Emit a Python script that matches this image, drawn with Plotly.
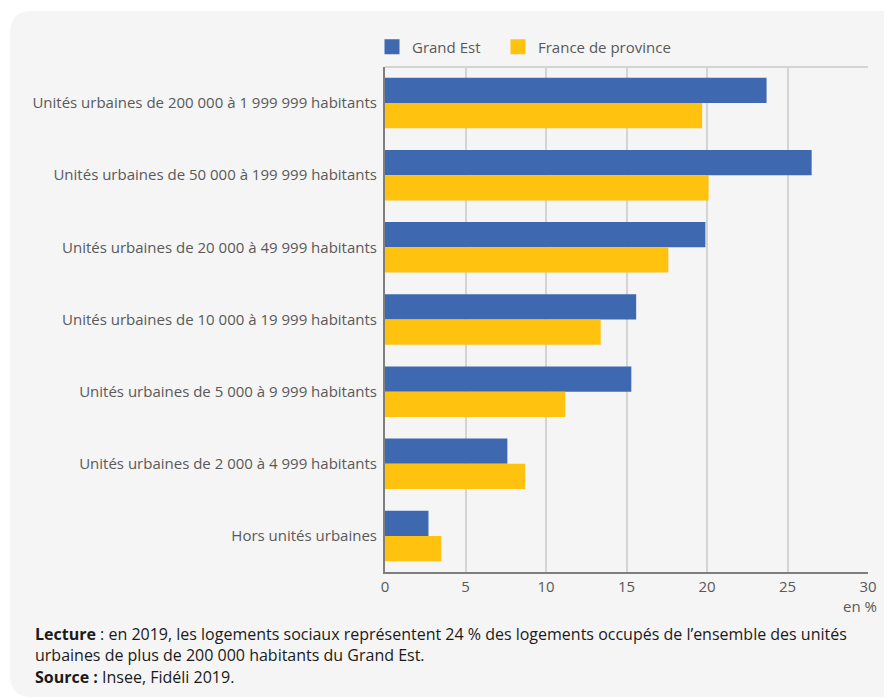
import plotly.graph_objects as go

categories = [
    "Unités urbaines de 200 000 à 1 999 999 habitants",
    "Unités urbaines de 50 000 à 199 999 habitants",
    "Unités urbaines de 20 000 à 49 999 habitants",
    "Unités urbaines de 10 000 à 19 999 habitants",
    "Unités urbaines de 5 000 à 9 999 habitants",
    "Unités urbaines de 2 000 à 4 999 habitants",
    "Hors unités urbaines",
]
grand_est = [23.7, 26.5, 19.9, 15.6, 15.3, 7.6, 2.7]
france_province = [19.7, 20.1, 17.6, 13.4, 11.2, 8.7, 3.5]
x_ticks = [0, 5, 10, 15, 20, 25, 30]

W, H = 892, 698
OFF = 8  # page body margin offset
L, R, T, B = 385 - OFF, 868 - OFF, 67 - OFF, 572 - OFF  # plot area in figure pixels
pw, ph = R - L, B - T

def px(x):
    return (x - OFF - L) / pw

def py(y):
    return (B - (y - OFF)) / ph

BLUE = "#3e68b0"
YELLOW = "#ffc20e"
TXT = "#595959"
BG = "#f5f5f5"
FONT = "Open Sans"

fig = go.Figure()
fig.add_trace(go.Bar(y=categories, x=grand_est, name="Grand Est", orientation="h",
                     marker=dict(color=BLUE, line=dict(width=0)), showlegend=False))
fig.add_trace(go.Bar(y=categories, x=france_province, name="France de province", orientation="h",
                     marker=dict(color=YELLOW, line=dict(width=0)), showlegend=False))
# legend entries (square swatches)
for nm, col, lg in [("Grand Est", BLUE, "legend"), ("France de province", YELLOW, "legend2")]:
    fig.add_trace(go.Scatter(x=[None], y=[None], name=nm, mode="markers", legend=lg,
                             marker=dict(symbol="square", size=15, color=col, line=dict(width=0)),
                             showlegend=True, hoverinfo="skip"))

# rounded panel (screen coordinates)
x0, x1, y0, y1, r = 10, 910, 11, 697, 22
path = (f"M {px(x0+r)},{py(y0)} L {px(x1)},{py(y0)} L {px(x1)},{py(y1)} "
        f"L {px(x0+r)},{py(y1)} Q {px(x0)},{py(y1)} {px(x0)},{py(y1-r)} "
        f"L {px(x0)},{py(y0+r)} Q {px(x0)},{py(y0)} {px(x0+r)},{py(y0)} Z")
shapes = [
    dict(type="path", xref="paper", yref="paper", path=path,
         fillcolor=BG, line=dict(width=0), layer="below"),
    dict(type="line", xref="paper", yref="paper", x0=0, x1=1, y0=1, y1=1,
         line=dict(color="#d4d4d4", width=2), layer="below"),
]

annotations = [
    dict(text="en %", xref="paper", yref="paper", x=px(879), y=py(606),
         xanchor="right", yanchor="middle", showarrow=False,
         font=dict(size=15, color=TXT)),
    dict(text="<b>Lecture</b> : en 2019, les logements sociaux représentent 24 % des logements occupés de l’ensemble des unités",
         xref="paper", yref="paper", x=px(33), y=py(634), xanchor="left", yanchor="middle",
         showarrow=False, font=dict(size=16, color="#1a1a1a")),
    dict(text="urbaines de plus de 200 000 habitants du Grand Est.",
         xref="paper", yref="paper", x=px(33), y=py(655), xanchor="left", yanchor="middle",
         showarrow=False, font=dict(size=16, color="#1a1a1a")),
    dict(text="<b>Source :</b> Insee, Fidéli 2019.",
         xref="paper", yref="paper", x=px(33), y=py(677), xanchor="left", yanchor="middle",
         showarrow=False, font=dict(size=16, color="#1a1a1a")),
]

legend_common = dict(orientation="h", xanchor="left", yanchor="middle",
                     bgcolor="rgba(0,0,0,0)", font=dict(size=15, color=TXT),
                     itemclick=False, itemdoubleclick=False, itemsizing="trace")

fig.update_layout(
    width=W, height=H,
    margin=dict(l=L, r=W - R, t=T, b=H - B, pad=0),
    paper_bgcolor="white", plot_bgcolor=BG,
    font=dict(family=FONT, size=15, color=TXT),
    barmode="group", bargap=0.3, bargroupgap=0,
    showlegend=True,
    legend=dict(x=px(372), y=py(47), **legend_common),
    legend2=dict(x=px(498), y=py(47), **legend_common),
    xaxis=dict(range=[0, 30], tickvals=x_ticks, ticktext=[str(v) for v in x_ticks],
               showgrid=True, gridcolor="#d4d4d4", gridwidth=2,
               zeroline=False, showline=True, linecolor="#7f7f7f", linewidth=2,
               ticks="", tickfont=dict(size=15, color=TXT), fixedrange=True),
    yaxis=dict(categoryorder="array", categoryarray=categories, autorange="reversed",
               showgrid=False, zeroline=False, showline=True, linecolor="#7f7f7f", linewidth=2,
               ticks="", ticklabelstandoff=3, tickfont=dict(size=15, color=TXT), fixedrange=True),
    shapes=shapes, annotations=annotations,
)

fig.write_html("out.html")
